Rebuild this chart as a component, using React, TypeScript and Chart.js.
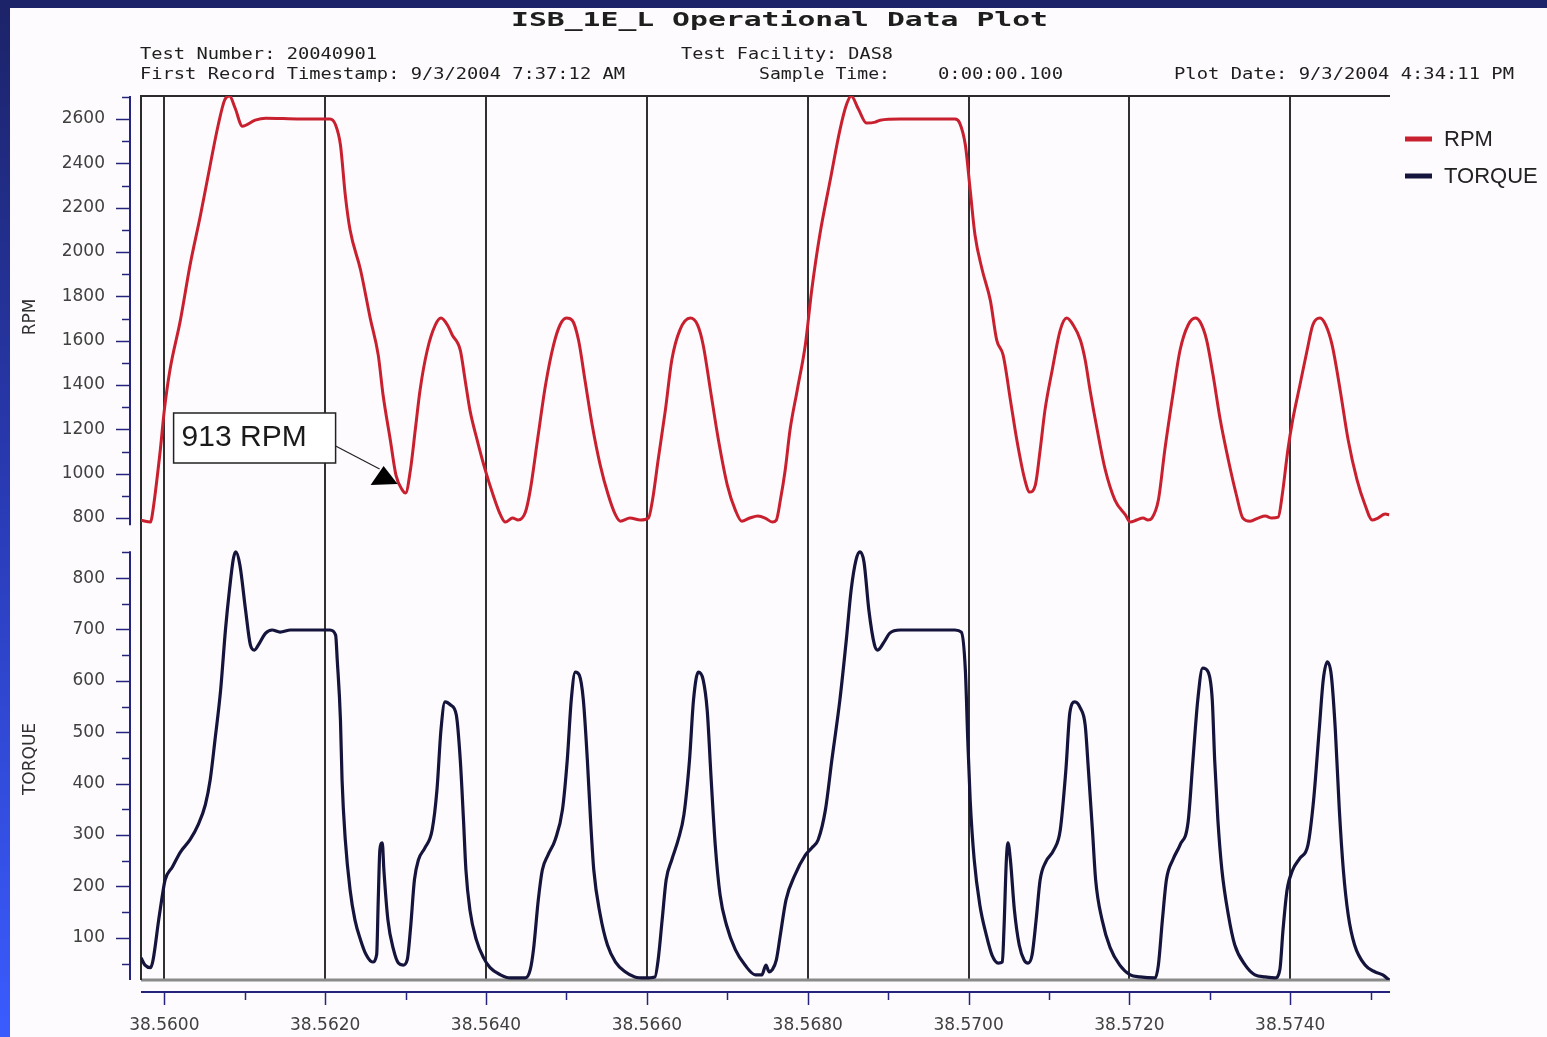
import React, { useEffect, useRef } from 'react';
import { Chart, registerables } from 'chart.js';

Chart.register(...registerables);

// ---------------- data ----------------
const X_MIN = 38.55971;
const X_MAX = 38.57524;
const X_TICKS = [38.560, 38.561, 38.562, 38.563, 38.564, 38.565, 38.566, 38.567, 38.568, 38.569, 38.570, 38.571, 38.572, 38.573, 38.574, 38.575];

const RPM_MIN = 710;
const RPM_MAX = 2704;
const RPM_TICKS = [800, 900, 1000, 1100, 1200, 1300, 1400, 1500, 1600, 1700, 1800, 1900, 2000, 2100, 2200, 2300, 2400, 2500, 2600, 2700];

const TORQUE_MIN = 18;
const TORQUE_MAX = 878;
const TORQUE_TICKS = [50, 100, 150, 200, 250, 300, 350, 400, 450, 500, 550, 600, 650, 700, 750, 800, 850];

const RPM_X = [38.55971, 38.55983, 38.55985, 38.55995, 38.56000, 38.56007, 38.56020, 38.56032, 38.56045, 38.56057, 38.56067, 38.56075, 38.56081, 38.56088, 38.56097, 38.56113, 38.56126, 38.56169, 38.56206, 38.56213, 38.56219, 38.56225, 38.56231, 38.56244, 38.56256, 38.56266, 38.56272, 38.56281, 38.56288, 38.56296, 38.56300, 38.56306, 38.56312, 38.56318, 38.56327, 38.56337, 38.56344, 38.56352, 38.56358, 38.56368, 38.56374, 38.56380, 38.56389, 38.56399, 38.56408, 38.56418, 38.56424, 38.56433, 38.56440, 38.56449, 38.56455, 38.56464, 38.56474, 38.56484, 38.56492, 38.56500, 38.56507, 38.56515, 38.56523, 38.56532, 38.56542, 38.56552, 38.56561, 38.56567, 38.56579, 38.56592, 38.56602, 38.56607, 38.56614, 38.56623, 38.56631, 38.56641, 38.56654, 38.56663, 38.56670, 38.56679, 38.56689, 38.56700, 38.56710, 38.56718, 38.56728, 38.56738, 38.56747, 38.56756, 38.56761, 38.56766, 38.56772, 38.56778, 38.56787, 38.56797, 38.56805, 38.56815, 38.56828, 38.56840, 38.56848, 38.56854, 38.56863, 38.56873, 38.56884, 38.56890, 38.56915, 38.56983, 38.56989, 38.56996, 38.57002, 38.57008, 38.57017, 38.57027, 38.57035, 38.57043, 38.57052, 38.57060, 38.57070, 38.57076, 38.57083, 38.57089, 38.57095, 38.57104, 38.57114, 38.57122, 38.57130, 38.57139, 38.57145, 38.57151, 38.57160, 38.57170, 38.57182, 38.57195, 38.57201, 38.57209, 38.57217, 38.57223, 38.57228, 38.57236, 38.57244, 38.57254, 38.57263, 38.57273, 38.57282, 38.57288, 38.57296, 38.57304, 38.57313, 38.57323, 38.57333, 38.57341, 38.57350, 38.57360, 38.57369, 38.57377, 38.57385, 38.57390, 38.57397, 38.57403, 38.57412, 38.57421, 38.57428, 38.57437, 38.57444, 38.57452, 38.57462, 38.57472, 38.57483, 38.57493, 38.57502, 38.57509, 38.57518, 38.57523];
const RPM_Y = [790, 782, 814, 1107, 1287, 1468, 1693, 1941, 2167, 2392, 2573, 2686, 2705, 2650, 2568, 2595, 2604, 2600, 2600, 2573, 2483, 2257, 2099, 1919, 1702, 1535, 1355, 1152, 994, 926, 913, 1017, 1197, 1378, 1558, 1671, 1702, 1671, 1626, 1558, 1423, 1287, 1152, 1017, 913, 814, 782, 800, 791, 827, 926, 1152, 1400, 1581, 1671, 1702, 1693, 1603, 1423, 1220, 1039, 904, 814, 786, 800, 791, 800, 881, 1062, 1287, 1513, 1648, 1702, 1671, 1581, 1378, 1152, 949, 836, 786, 800, 809, 800, 782, 791, 881, 1017, 1197, 1378, 1581, 1829, 2077, 2325, 2550, 2663, 2705, 2645, 2582, 2586, 2595, 2600, 2600, 2582, 2483, 2280, 2077, 1919, 1783, 1603, 1535, 1333, 1152, 972, 917, 949, 1107, 1287, 1468, 1648, 1702, 1671, 1603, 1513, 1378, 1197, 1017, 881, 814, 782, 791, 800, 791, 800, 881, 1107, 1355, 1558, 1671, 1702, 1684, 1603, 1445, 1242, 1062, 904, 800, 786, 800, 809, 800, 804, 904, 1107, 1242, 1400, 1558, 1671, 1702, 1671, 1581, 1378, 1152, 972, 859, 791, 800, 818, 815];

const TORQUE_X = [38.55971, 38.55976, 38.55983, 38.55986, 38.55993, 38.55998, 38.56001, 38.56010, 38.56020, 38.56032, 38.56042, 38.56051, 38.56057, 38.56063, 38.56070, 38.56076, 38.56081, 38.56086, 38.56089, 38.56094, 38.56101, 38.56107, 38.56112, 38.56117, 38.56126, 38.56134, 38.56144, 38.56157, 38.56206, 38.56213, 38.56215, 38.56219, 38.56221, 38.56225, 38.56231, 38.56237, 38.56244, 38.56251, 38.56259, 38.56264, 38.56266, 38.56268, 38.56271, 38.56273, 38.56278, 38.56285, 38.56291, 38.56297, 38.56302, 38.56306, 38.56311, 38.56316, 38.56324, 38.56333, 38.56339, 38.56344, 38.56349, 38.56356, 38.56363, 38.56368, 38.56372, 38.56375, 38.56380, 38.56388, 38.56397, 38.56405, 38.56418, 38.56430, 38.56449, 38.56455, 38.56459, 38.56465, 38.56470, 38.56477, 38.56486, 38.56495, 38.56501, 38.56506, 38.56511, 38.56516, 38.56521, 38.56526, 38.56530, 38.56534, 38.56542, 38.56551, 38.56561, 38.56573, 38.56585, 38.56598, 38.56610, 38.56614, 38.56619, 38.56624, 38.56631, 38.56639, 38.56646, 38.56653, 38.56658, 38.56664, 38.56670, 38.56675, 38.56680, 38.56685, 38.56691, 38.56699, 38.56710, 38.56722, 38.56735, 38.56743, 38.56748, 38.56752, 38.56756, 38.56761, 38.56766, 38.56773, 38.56784, 38.56797, 38.56805, 38.56813, 38.56822, 38.56830, 38.56840, 38.56848, 38.56854, 38.56860, 38.56865, 38.56870, 38.56876, 38.56883, 38.56887, 38.56895, 38.56902, 38.56915, 38.56952, 38.56983, 38.56991, 38.56996, 38.56999, 38.57002, 38.57007, 38.57014, 38.57022, 38.57029, 38.57037, 38.57042, 38.57044, 38.57047, 38.57049, 38.57052, 38.57057, 38.57063, 38.57069, 38.57074, 38.57079, 38.57084, 38.57089, 38.57096, 38.57106, 38.57114, 38.57121, 38.57126, 38.57132, 38.57139, 38.57145, 38.57149, 38.57154, 38.57158, 38.57166, 38.57176, 38.57188, 38.57201, 38.57213, 38.57232, 38.57236, 38.57241, 38.57246, 38.57254, 38.57263, 38.57273, 38.57279, 38.57285, 38.57291, 38.57298, 38.57303, 38.57306, 38.57310, 38.57315, 38.57323, 38.57331, 38.57344, 38.57356, 38.57369, 38.57381, 38.57387, 38.57391, 38.57396, 38.57403, 38.57412, 38.57422, 38.57429, 38.57436, 38.57441, 38.57446, 38.57451, 38.57456, 38.57461, 38.57466, 38.57472, 38.57480, 38.57493, 38.57505, 38.57515, 38.57523];
const TORQUE_Y = [61, 47, 42, 57, 135, 187, 213, 238, 267, 291, 320, 359, 407, 485, 582, 699, 777, 839, 851, 825, 738, 670, 660, 670, 693, 699, 695, 699, 699, 689, 641, 524, 407, 291, 193, 135, 96, 67, 53, 67, 174, 271, 285, 232, 135, 77, 51, 47, 57, 116, 213, 252, 275, 310, 388, 505, 559, 553, 534, 446, 329, 232, 154, 96, 61, 42, 28, 22, 22, 38, 77, 174, 232, 261, 291, 349, 446, 563, 617, 611, 563, 446, 329, 232, 145, 86, 53, 34, 24, 22, 24, 57, 135, 213, 252, 291, 339, 446, 563, 617, 602, 543, 407, 281, 184, 125, 77, 47, 28, 28, 47, 34, 38, 57, 106, 174, 222, 261, 275, 291, 349, 446, 563, 680, 777, 835, 851, 831, 738, 670, 660, 676, 693, 699, 699, 699, 695, 621, 485, 368, 252, 164, 106, 67, 51, 53, 116, 252, 285, 252, 154, 86, 57, 51, 67, 135, 213, 248, 271, 310, 427, 539, 559, 547, 514, 427, 310, 213, 135, 81, 47, 28, 24, 22, 47, 135, 213, 252, 281, 326, 446, 563, 625, 617, 563, 446, 329, 232, 145, 86, 47, 28, 24, 22, 38, 116, 193, 232, 255, 281, 368, 505, 602, 637, 611, 505, 349, 232, 145, 86, 47, 34, 28, 18];

const SERIES_LABELS = ['RPM', 'TORQUE'];
const ANNOTATION_X = 38.56300;
const ANNOTATION_Y = 913;
const ANNOTATION_TEXT = '913 RPM';

const TITLE_TEXT = 'ISB_1E_L Operational Data Plot';
const HEADER_TEST_NUMBER = 'Test Number: 20040901';
const HEADER_FIRST_RECORD = 'First Record Timestamp: 9/3/2004 7:37:12 AM';
const HEADER_FACILITY = 'Test Facility: DAS8';
const HEADER_SAMPLE_LABEL = 'Sample Time:';
const HEADER_SAMPLE_VALUE = '0:00:00.100';
const HEADER_PLOT_DATE = 'Plot Date: 9/3/2004 4:34:11 PM';

// ---------------- styles ----------------
const RED = '#c8202e';
const NAVY = '#14143c';
const AXIS_BLUE = '#24247e';
const GRID = '#303030';
const TICK_FONT = 'DejaVu Sans';

function toPoints(xs: number[], ys: number[]) {
  const n = Math.min(xs.length, ys.length);
  const out: { x: number; y: number }[] = [];
  for (let i = 0; i < n; i++) out.push({ x: xs[i], y: ys[i] });
  return out;
}

function isMajorX(v: number) {
  return Math.round(v * 1000) % 2 === 0;
}

function stretchText(ctx: CanvasRenderingContext2D, text: string, x: number, y: number, width: number, font: string) {
  ctx.save();
  ctx.font = font;
  const w = ctx.measureText(text).width;
  ctx.translate(x, y);
  ctx.scale(width / w, 1);
  ctx.textAlign = 'left';
  ctx.textBaseline = 'middle';
  ctx.fillStyle = '#1e1e1e';
  ctx.fillText(text, 0, 0);
  ctx.restore();
}

const decorPlugin = {
  id: 'decor',
  beforeDraw(chart: any) {
    const { ctx, width, height } = chart;
    ctx.save();
    ctx.fillStyle = '#fdfbfd';
    ctx.fillRect(0, 0, width, height);
    const g = ctx.createLinearGradient(0, 0, 0, height);
    g.addColorStop(0, '#1c2368');
    g.addColorStop(0.5, '#2a3cb8');
    g.addColorStop(1, '#3a5cff');
    ctx.fillStyle = g;
    ctx.fillRect(0, 0, 10, height);
    ctx.fillStyle = '#1c2368';
    ctx.fillRect(0, 0, width, 8);
    ctx.restore();
  },
  beforeDatasetsDraw(chart: any) {
    const { ctx, chartArea } = chart;
    const { left, right, top, bottom } = chartArea;
    ctx.save();
    ctx.strokeStyle = '#8a8a8a';
    ctx.lineWidth = 3;
    ctx.beginPath();
    ctx.moveTo(left, bottom);
    ctx.lineTo(right, bottom);
    ctx.stroke();
    ctx.strokeStyle = '#2a2a2a';
    ctx.lineWidth = 2;
    ctx.beginPath();
    ctx.moveTo(right, top);
    ctx.lineTo(left, top);
    ctx.lineTo(left, bottom);
    ctx.stroke();
    ctx.restore();
  },
  afterDraw(chart: any) {
    const { ctx, chartArea } = chart;
    const { left, right, bottom } = chartArea;
    ctx.save();
    // y axes (offset from plot)
    const ax = left - 11;
    ctx.strokeStyle = AXIS_BLUE;
    const axes: [string, number, number, number[], number][] = [
      ['yRpm', RPM_MAX, 768, RPM_TICKS, 200],
      ['yTorque', 852, TORQUE_MIN, TORQUE_TICKS, 100],
    ];
    for (const [id, vTop, vBot, ticks, step] of axes) {
      const s = chart.scales[id];
      ctx.lineWidth = 2;
      ctx.beginPath();
      ctx.moveTo(ax, s.getPixelForValue(vTop));
      ctx.lineTo(ax, s.getPixelForValue(vBot));
      ctx.stroke();
      ctx.lineWidth = 1.5;
      for (const t of ticks) {
        const y = Math.round(s.getPixelForValue(t)) + 0.5;
        const len = t % step === 0 ? 14 : 8;
        ctx.beginPath();
        ctx.moveTo(ax - len, y);
        ctx.lineTo(ax, y);
        ctx.stroke();
      }
    }
    // x axis (offset below plot)
    const xs = chart.scales.x;
    const ay = bottom + 12;
    ctx.lineWidth = 2;
    ctx.beginPath();
    ctx.moveTo(left, ay);
    ctx.lineTo(right, ay);
    ctx.stroke();
    ctx.lineWidth = 1.5;
    for (const t of X_TICKS) {
      const x = Math.round(xs.getPixelForValue(t)) + 0.5;
      const len = isMajorX(t) ? 13 : 8;
      ctx.beginPath();
      ctx.moveTo(x, ay);
      ctx.lineTo(x, ay + len);
      ctx.stroke();
    }

    // legend
    ctx.font = '22px "Liberation Sans", Arial, sans-serif';
    ctx.textBaseline = 'middle';
    ctx.textAlign = 'left';
    chart.data.datasets.forEach((ds: any, i: number) => {
      const y = 139 + i * 37;
      ctx.strokeStyle = ds.borderColor;
      ctx.lineWidth = 5;
      ctx.beginPath();
      ctx.moveTo(1405, y);
      ctx.lineTo(1432, y);
      ctx.stroke();
      ctx.fillStyle = '#222';
      ctx.fillText(ds.label, 1444, y + 1);
    });

    // annotation
    const px = xs.getPixelForValue(ANNOTATION_X);
    const py = chart.scales.yRpm.getPixelForValue(ANNOTATION_Y);
    const bx = px - 232;
    const by = py - 80;
    ctx.fillStyle = '#ffffff';
    ctx.fillRect(bx, by, 162, 50);
    ctx.strokeStyle = '#222';
    ctx.lineWidth = 1.5;
    ctx.strokeRect(bx, by, 162, 50);
    ctx.fillStyle = '#1a1a1a';
    ctx.font = '30px "Liberation Sans", Arial, sans-serif';
    ctx.textBaseline = 'middle';
    ctx.fillText(ANNOTATION_TEXT, bx + 8, by + 25);
    ctx.lineWidth = 1.2;
    ctx.beginPath();
    ctx.moveTo(bx + 162, by + 33);
    ctx.lineTo(px - 26, py - 24);
    ctx.stroke();
    ctx.fillStyle = '#000';
    ctx.beginPath();
    ctx.moveTo(px - 22, py - 27);
    ctx.lineTo(px - 35, py - 8);
    ctx.lineTo(px - 8, py - 9);
    ctx.closePath();
    ctx.fill();

    // header texts
    const mono = '"DejaVu Sans Mono", monospace';
    stretchText(ctx, TITLE_TEXT, 511, 21, 537, `bold 20px ${mono}`);
    stretchText(ctx, HEADER_TEST_NUMBER, 140, 55, 237, `15px ${mono}`);
    stretchText(ctx, HEADER_FIRST_RECORD, 140, 75, 485, `15px ${mono}`);
    stretchText(ctx, HEADER_FACILITY, 681, 55, 212, `15px ${mono}`);
    stretchText(ctx, HEADER_SAMPLE_LABEL, 759, 75, 131, `15px ${mono}`);
    stretchText(ctx, HEADER_SAMPLE_VALUE, 938, 75, 125, `15px ${mono}`);
    stretchText(ctx, HEADER_PLOT_DATE, 1174, 75, 340, `15px ${mono}`);
    ctx.restore();
  },
};

export default function App() {
  const ref = useRef<HTMLCanvasElement | null>(null);

  useEffect(() => {
    if (!ref.current) return;
    const tickFont = { family: TICK_FONT, size: 17 };
    const chart = new Chart(ref.current, {
      type: 'line',
      data: {
        datasets: [
          {
            label: SERIES_LABELS[0],
            data: toPoints(RPM_X, RPM_Y),
            yAxisID: 'yRpm',
            borderColor: RED,
            borderWidth: 3,
            pointRadius: 0,
            cubicInterpolationMode: 'monotone',
            fill: false,
          },
          {
            label: SERIES_LABELS[1],
            data: toPoints(TORQUE_X, TORQUE_Y),
            yAxisID: 'yTorque',
            borderColor: NAVY,
            borderWidth: 3.2,
            pointRadius: 0,
            cubicInterpolationMode: 'monotone',
            fill: false,
          },
        ],
      },
      options: {
        responsive: false,
        devicePixelRatio: 1,
        animation: false,
        parsing: false,
        layout: { padding: { left: 10, top: 96, right: 157, bottom: 0 } },
        plugins: { legend: { display: false }, tooltip: { enabled: false }, title: { display: false } },
        scales: {
          x: {
            type: 'linear',
            min: X_MIN,
            max: X_MAX,
            afterBuildTicks: (s: any) => { s.ticks = X_TICKS.map((v) => ({ value: v })); },
            afterFit: (s: any) => { s.height = 57; },
            grid: {
              drawTicks: false,
              lineWidth: 2,
              color: (c: any) => (c.tick && isMajorX(c.tick.value) ? GRID : 'rgba(0,0,0,0)'),
            },
            border: { display: false },
            ticks: {
              autoSkip: false,
              maxRotation: 0,
              padding: 35,
              font: tickFont,
              color: '#404040',
              callback: (v: any) => (isMajorX(Number(v)) ? Number(v).toFixed(4) : ''),
            },
          },
          yTorque: {
            type: 'linear',
            position: 'left',
            stack: 'main',
            stackWeight: 1,
            min: TORQUE_MIN,
            max: TORQUE_MAX,
            afterBuildTicks: (s: any) => { s.ticks = TORQUE_TICKS.map((v) => ({ value: v })); },
            afterFit: (s: any) => { s.width = 131; },
            grid: { display: false, drawTicks: false },
            border: { display: false },
            ticks: {
              autoSkip: false,
              padding: 36,
              font: tickFont,
              color: '#404040',
              callback: (v: any) => (Number(v) % 100 === 0 ? String(v) : ''),
            },
            title: { display: true, text: SERIES_LABELS[1], font: { family: TICK_FONT, size: 17 }, color: '#303030', padding: { top: 10, bottom: 0 } },
          },
          yRpm: {
            type: 'linear',
            position: 'left',
            stack: 'main',
            stackWeight: 1,
            min: RPM_MIN,
            max: RPM_MAX,
            afterBuildTicks: (s: any) => { s.ticks = RPM_TICKS.map((v) => ({ value: v })); },
            afterFit: (s: any) => { s.width = 131; },
            grid: { display: false, drawTicks: false },
            border: { display: false },
            ticks: {
              autoSkip: false,
              padding: 36,
              font: tickFont,
              color: '#404040',
              callback: (v: any) => (Number(v) % 200 === 0 ? String(v) : ''),
            },
            title: { display: true, text: SERIES_LABELS[0], font: { family: TICK_FONT, size: 17 }, color: '#303030', padding: { top: 10, bottom: 0 } },
          },
        },
      } as any,
      plugins: [decorPlugin],
    });
    return () => chart.destroy();
  }, []);

  return (
    <div style={{ position: 'absolute', left: 0, top: 0, width: 1547, height: 1037 }}>
      <canvas ref={ref} width={1547} height={1037} style={{ display: 'block', width: 1547, height: 1037 }} />
    </div>
  );
}
